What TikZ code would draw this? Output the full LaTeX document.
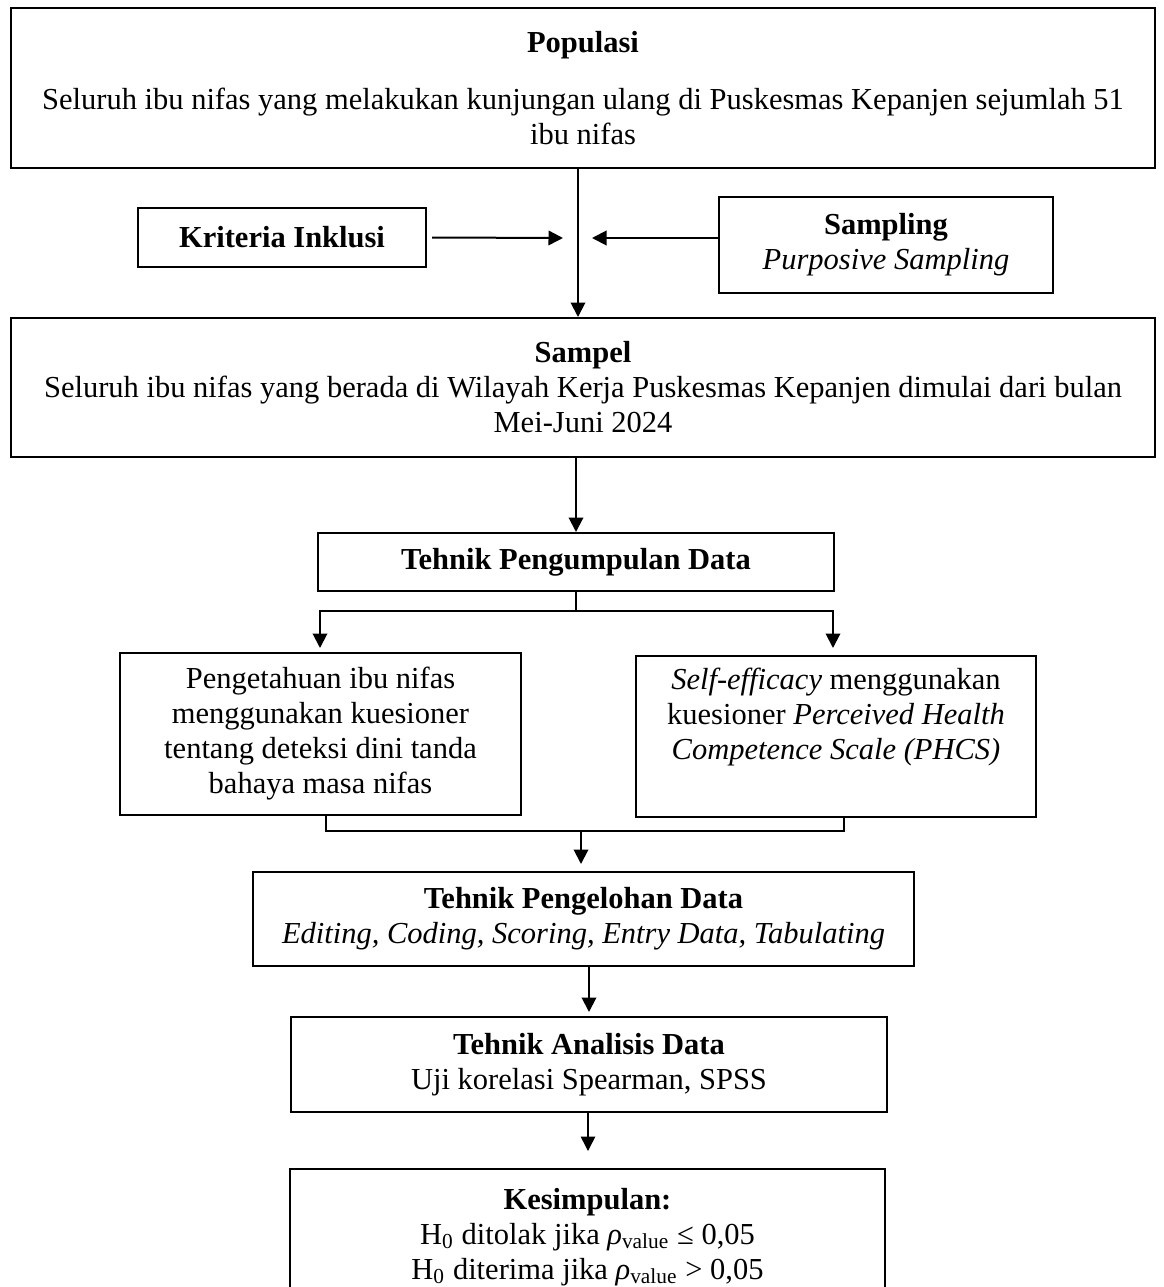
\documentclass[tikz,border=0pt]{standalone}
\usepackage{fontspec}
\setmainfont{Liberation Serif}
\usetikzlibrary{positioning}
\usetikzlibrary{arrows.meta}
\tikzset{
    boxn/.style = {rectangle, thick, draw=black, align=center, inner sep=2pt, font=\fontsize{12.2}{14}\selectfont, text=black},
    edgen/.style = {-, thick, black},
    edgea/.style = {-{Triangle[length=5.8pt,width=5.8pt]}, thick, black},
    edgeat/.style = {-{Triangle[length=5.8pt,width=5.8pt]}, semithick, black}
}
\begin{document}
\begin{tikzpicture}[x=0.4pt, y=-0.4pt]
  \useasboundingbox (0,0) rectangle (1164,1287);

  % boxes
  \node[boxn, minimum width=457.6pt, minimum height=64pt] (pop) at (583,88)
    {\textbf{Populasi}\\[9pt] Seluruh ibu nifas yang melakukan kunjungan ulang di Puskesmas Kepanjen sejumlah 51\\ ibu nifas};
  \node[boxn, minimum width=115.2pt, minimum height=23.6pt] (kri) at (282,237.5) {\textbf{Kriteria Inklusi}};
  \node[boxn, minimum width=133.6pt, minimum height=38.4pt] (smp) at (886,245) {\textbf{Sampling}\\ \textit{Purposive Sampling}};
  \node[boxn, minimum width=457.6pt, minimum height=55.6pt] (sam) at (583,387.5)
    {\textbf{Sampel}\\ Seluruh ibu nifas yang berada di Wilayah Kerja Puskesmas Kepanjen dimulai dari bulan\\ Mei-Juni 2024};
  \node[boxn, minimum width=206.4pt, minimum height=23.2pt] (pgm) at (576,562) {\textbf{Tehnik Pengumpulan Data}};
  \node[boxn, minimum width=160.4pt, minimum height=64.8pt] (pgt) at (320.5,734)
    {Pengetahuan ibu nifas\\ menggunakan kuesioner\\ tentang deteksi dini tanda\\ bahaya masa nifas};
  \node[boxn, minimum width=160pt, minimum height=64.4pt] (sef) at (836,736.5)
    {\textit{Self-efficacy} menggunakan\\ kuesioner \textit{Perceived Health}\\ \textit{Competence Scale (PHCS)}\\ \strut};
  \node[boxn, minimum width=264.4pt, minimum height=37.6pt] (olh) at (583.5,919)
    {\textbf{Tehnik Pengelohan Data}\\ \textit{Editing, Coding, Scoring, Entry Data, Tabulating}};
  \node[boxn, minimum width=238.4pt, minimum height=38pt] (ana) at (589,1064.5)
    {\textbf{Tehnik Analisis Data}\\ Uji korelasi Spearman, SPSS};
  \node[boxn, minimum width=238pt, minimum height=54.4pt] (kes) at (587.5,1237)
    {\textbf{Kesimpulan:}\\ H\textsubscript{0} ditolak jika \textit{ρ}\textsubscript{value} ≤ 0,05\\ H\textsubscript{0} diterima jika \textit{ρ}\textsubscript{value} > 0,05};

  % junctions
  \coordinate (jl) at (563,238);
  \coordinate (jr) at (592,238);
  \coordinate (jc) at (578,238);
  \coordinate (sl) at (320,611);
  \coordinate (sr) at (833,611);
  \coordinate (tl) at (320,648);
  \coordinate (tr) at (833,648);
  \coordinate (ml) at (326,831);
  \coordinate (mr) at (844,831);
  \coordinate (mm) at (581,831);
  \coordinate (mt) at (581,864);
  \coordinate (at) at (589,1012);
  \coordinate (kt) at (588,1151);

  % connectors
  \draw[edgea] (pop.south -| jc) -- (sam.north -| jc);
  \draw[edgea] ([xshift=2pt]kri.east) -- (jl);
  \draw[edgea] (smp.west |- jr) -- (jr);
  \draw[edgea] (sam.south -| pgm.north) -- (pgm.north);
  \draw[edgen] (pgm.south) -- (pgm.south |- sl);
  \draw[edgea] (pgm.south |- sl) -| (tl);
  \draw[edgea] (pgm.south |- sl) -| (tr);
  \draw[edgen] (pgt.south -| ml) -- (ml) -- (mr) -- (sef.south -| mr);
  \draw[edgea] (mm) -- (mt);
  \draw[edgea] (olh.south -| at) -- (at);
  \draw[edgeat] (ana.south -| kt) -- (kt);

\end{tikzpicture}
\end{document}
